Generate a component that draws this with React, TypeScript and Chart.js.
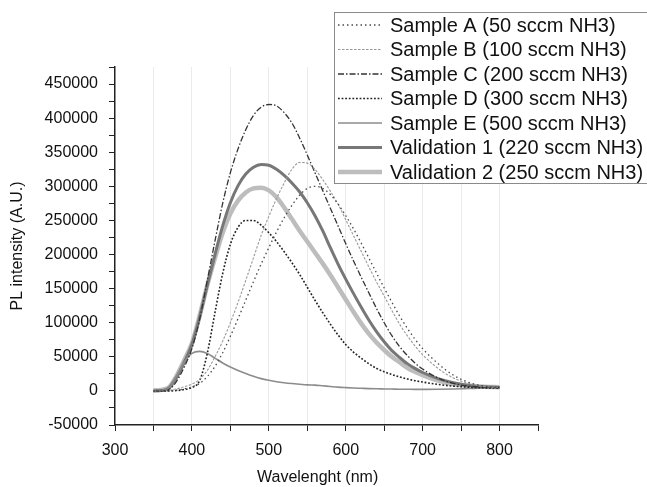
import React, { useEffect, useRef } from "react";
import { Chart, registerables } from "chart.js";

Chart.register(...registerables);

// Wavelengths (nm)
const wavelengths = [350, 360, 370, 380, 390, 400, 410, 420, 430, 440, 450, 460, 470, 480, 490, 500, 510, 520, 530, 540, 550, 560, 570, 580, 590, 600, 610, 620, 630, 640, 650, 660, 670, 680, 690, 700, 720, 740, 760, 780, 800];

const sampleA = [0, 0, 300, 1000, 3000, 6000, 11000, 21000, 36000, 56000, 80000, 106000, 133000, 160000, 186000, 210000, 233000, 254000, 272000, 287000, 297000, 300000, 297000, 288000, 274000, 257000, 238000, 217000, 195000, 173000, 151000, 130000, 110000, 92000, 76000, 62000, 40000, 23000, 12500, 7000, 5000];
const sampleB = [0, 300, 1000, 3000, 6000, 10000, 17000, 30000, 50000, 73000, 100000, 130000, 162000, 195000, 228000, 256000, 282000, 305000, 325000, 335000, 334000, 325000, 310000, 293000, 274000, 251000, 228000, 205000, 182000, 160000, 139000, 118000, 98000, 81000, 66000, 53000, 33000, 19000, 11000, 6500, 5000];
const sampleC = [0, 0, 2000, 14000, 35000, 62000, 105000, 162000, 220000, 275000, 320000, 355000, 383000, 404000, 416000, 420000, 418000, 408000, 393000, 371000, 346000, 320000, 294000, 268000, 242000, 216000, 191000, 167000, 144000, 121000, 100000, 81000, 65000, 52000, 41000, 32000, 19000, 11000, 7000, 5500, 5000];
const sampleD = [0, 0, 0, 500, 2000, 5000, 15000, 55000, 115000, 172000, 215000, 240000, 250000, 250000, 243000, 232000, 219000, 204000, 188000, 171000, 152000, 133000, 115000, 98000, 82000, 68000, 57000, 48000, 40000, 33000, 28000, 24000, 20500, 17500, 15000, 13000, 9500, 7000, 5500, 4500, 4500];
const sampleE = [0, 500, 4000, 22000, 42000, 55000, 58000, 55000, 48000, 41000, 35000, 30000, 25500, 21500, 18000, 15500, 13500, 12000, 10800, 9800, 8800, 8500, 7500, 6500, 5500, 4800, 4200, 3800, 3400, 3100, 2900, 2700, 2500, 2400, 2300, 2300, 2400, 2800, 3500, 4200, 5000];
const validation1 = [0, 500, 4000, 20000, 42000, 68000, 108000, 155000, 200000, 242000, 276000, 301000, 318000, 328000, 332000, 331000, 325000, 316000, 305000, 292000, 276000, 257000, 235000, 210000, 186000, 164000, 143000, 123000, 104000, 87000, 72000, 59000, 49000, 40000, 33000, 27000, 18000, 12000, 8000, 6000, 5000];
const validation2 = [1000, 1500, 5000, 22000, 45000, 70000, 110000, 155000, 195000, 232000, 260000, 279000, 291000, 297000, 298000, 294000, 284000, 269000, 252000, 235000, 219000, 203000, 187000, 170000, 152000, 134000, 116000, 99000, 84000, 71000, 60000, 50000, 42000, 34000, 28000, 23000, 15000, 10000, 7500, 6000, 5500];

const seriesLabels = [
  "Sample A (50 sccm NH3)",
  "Sample B (100 sccm NH3)",
  "Sample C (200 sccm NH3)",
  "Sample D (300 sccm NH3)",
  "Sample E (500 sccm NH3)",
  "Validation 1 (220 sccm NH3)",
  "Validation 2 (250 sccm NH3)",
];
const seriesValues = [sampleA, sampleB, sampleC, sampleD, sampleE, validation1, validation2];

// Axis ticks
const xTickValues = [300, 350, 400, 450, 500, 550, 600, 650, 700, 750, 800, 850];
const xLabelValues = [300, 400, 500, 600, 700, 800];
const yTickValues = [-50000, -25000, 0, 25000, 50000, 75000, 100000, 125000, 150000, 175000, 200000, 225000, 250000, 275000, 300000, 325000, 350000, 375000, 400000, 425000, 450000, 475000];
const yLabelValues = [-50000, 0, 50000, 100000, 150000, 200000, 250000, 300000, 350000, 400000, 450000];

const styles = [
  { color: "#4a4a4a", width: 1.3, dash: [1.5, 3] },
  { color: "#9a9a9a", width: 1.1, dash: [2.5, 1.5] },
  { color: "#333333", width: 1.3, dash: [6, 2, 1.5, 2] },
  { color: "#222222", width: 1.6, dash: [1.8, 1.8] },
  { color: "#8c8c8c", width: 1.6, dash: [] },
  { color: "#777777", width: 3, dash: [] },
  { color: "#bdbdbd", width: 4.5, dash: [] },
];

const FONT = '"Liberation Sans", Arial, sans-serif';

const boxLegend = {
  id: "boxLegend",
  afterDraw(chart: any) {
    const ctx = chart.ctx;
    ctx.save();
    const x0 = 334.5, y0 = 12.5, w = 330, h = 171;
    ctx.fillStyle = "#ffffff";
    ctx.fillRect(x0, y0, w, h);
    ctx.strokeStyle = "#8a8a8a";
    ctx.lineWidth = 1;
    ctx.strokeRect(x0, y0, w, h);
    chart.data.datasets.forEach((ds: any, i: number) => {
      const y = 25 + i * 24.5;
      ctx.beginPath();
      ctx.setLineDash(ds.borderDash || []);
      ctx.strokeStyle = ds.borderColor;
      ctx.lineWidth = ds.borderWidth;
      ctx.moveTo(338, y);
      ctx.lineTo(382, y);
      ctx.stroke();
      ctx.setLineDash([]);
      ctx.fillStyle = "#111111";
      ctx.font = "20px " + FONT;
      ctx.textBaseline = "middle";
      ctx.textAlign = "left";
      ctx.fillText(ds.label, 390, y + 1);
    });
    ctx.restore();
  },
};

export default function App() {
  const ref = useRef<HTMLCanvasElement | null>(null);
  useEffect(() => {
    if (!ref.current) return;
    Chart.defaults.font.family = FONT;
    const datasets = seriesLabels.map((label, i) => ({
      label,
      data: wavelengths.map((x, j) => ({ x, y: seriesValues[i][j] })),
      borderColor: styles[i].color,
      borderWidth: styles[i].width,
      borderDash: styles[i].dash,
      pointRadius: 0,
      fill: false,
      cubicInterpolationMode: "monotone" as const,
    }));
    const chart = new Chart(ref.current, {
      type: "line",
      data: { datasets },
      options: {
        animation: false,
        responsive: true,
        maintainAspectRatio: false,
        layout: { padding: { top: 67, right: 109, left: 0, bottom: 0 } },
        plugins: { legend: { display: false }, tooltip: { enabled: false } },
        scales: {
          x: {
            type: "linear",
            min: 300,
            max: 850,
            afterBuildTicks: (s: any) => {
              s.ticks = xTickValues.map((v) => ({ value: v }));
            },
            afterFit: (s: any) => {
              s.height = 62;
            },
            ticks: {
              autoSkip: false,
              maxRotation: 0,
              padding: 10,
              color: "#111",
              font: { size: 16 },
              callback: (v: any) => (xLabelValues.includes(Number(v)) ? String(v) : ""),
            },
            grid: {
              color: (c: any) => (c.tick && (c.tick.value === 300 || c.tick.value === 850) ? "rgba(0,0,0,0)" : "#ebebeb"),
              tickColor: "#222",
              tickLength: 6,
              lineWidth: 1,
            },
            border: { display: true, color: "#222", width: 1.5 },
            title: { display: true, text: "Wavelenght (nm)    ", color: "#111", font: { size: 16 }, padding: { top: 2, bottom: 0 } },
          },
          y: {
            type: "linear",
            min: -50000,
            max: 475000,
            afterBuildTicks: (s: any) => {
              s.ticks = yTickValues.map((v) => ({ value: v }));
            },
            afterFit: (s: any) => {
              s.width = 115;
            },
            ticks: {
              autoSkip: false,
              padding: 11,
              color: "#111",
              font: { size: 16 },
              callback: (v: any) => (yLabelValues.includes(Number(v)) ? String(v) : ""),
            },
            grid: { drawOnChartArea: false, tickColor: "#222", tickLength: 6 },
            border: { display: true, color: "#222", width: 1.5 },
            title: { display: true, text: "PL intensity (A.U.)", color: "#111", font: { size: 16 }, padding: { top: 8, bottom: 0 } },
          },
        },
      },
      plugins: [boxLegend],
    });
    return () => chart.destroy();
  }, []);
  return (
    <div style={{ position: "fixed", left: 0, top: 0, width: 647, height: 487, background: "#fff" }}>
      <canvas ref={ref} />
    </div>
  );
}
